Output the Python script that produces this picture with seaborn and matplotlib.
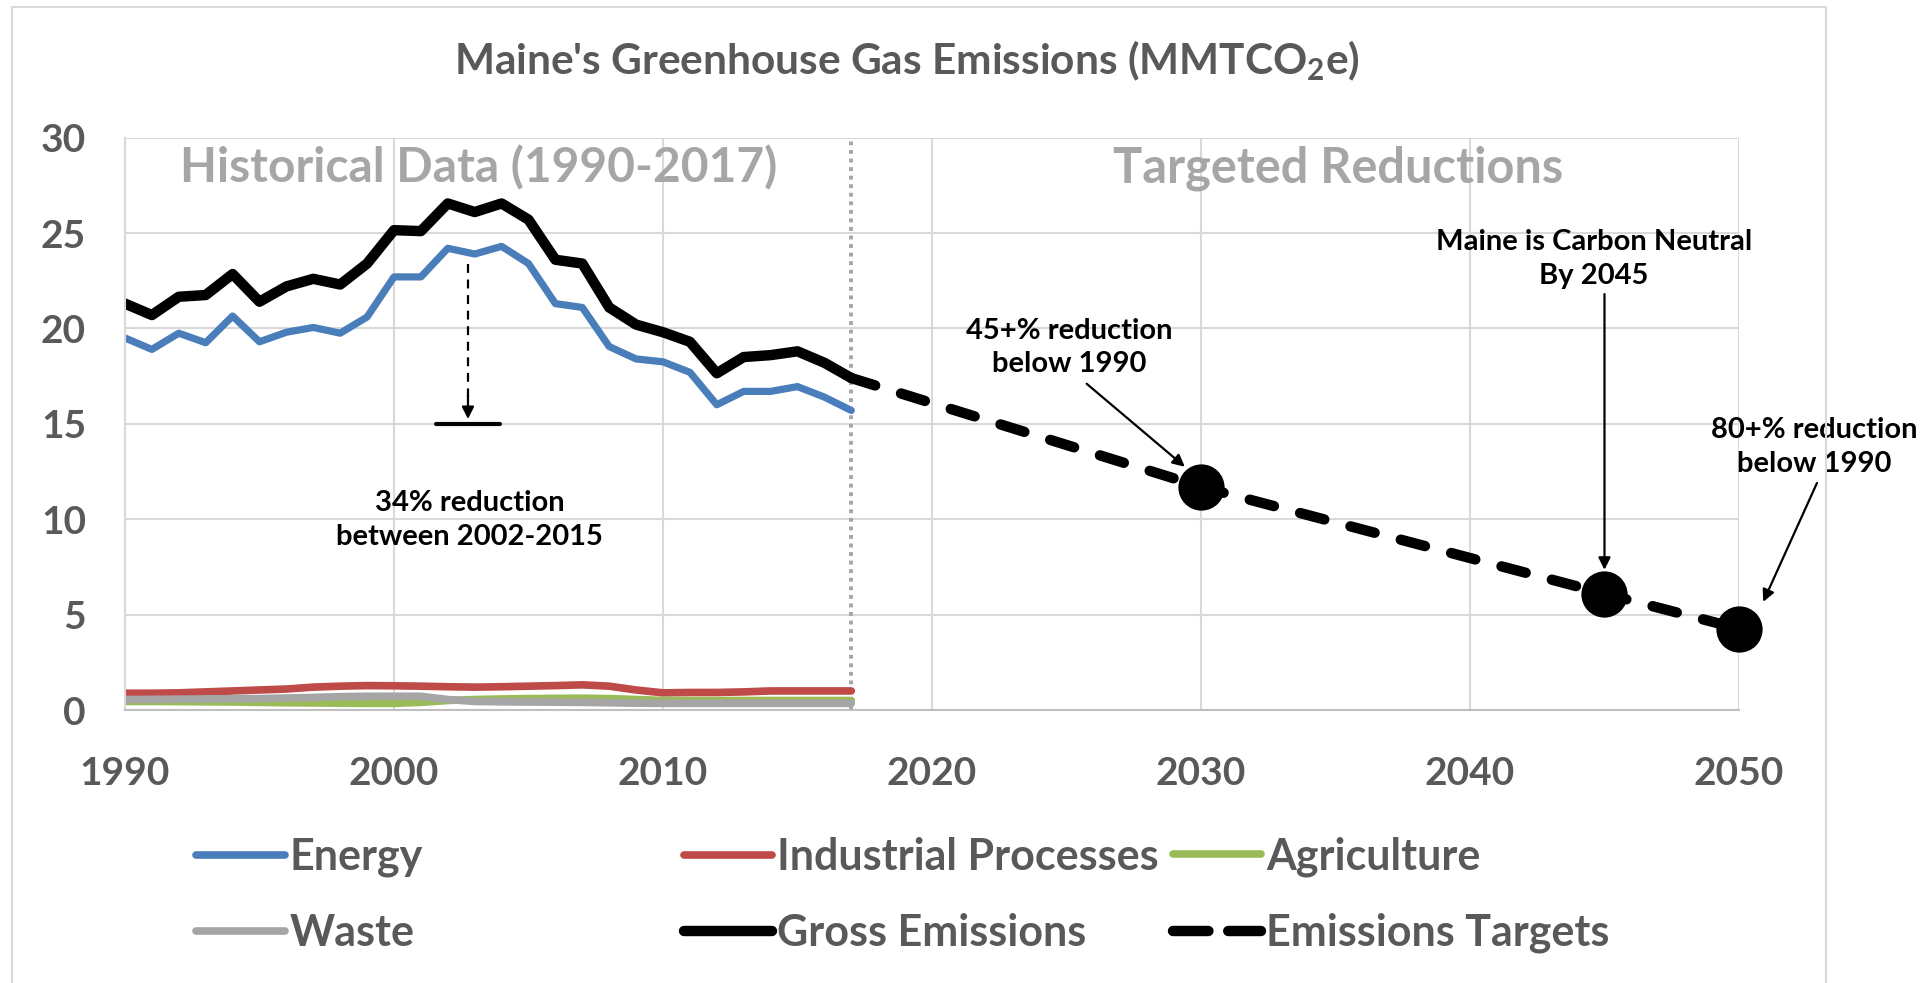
import seaborn as sns
import matplotlib.pyplot as plt
from matplotlib.lines import Line2D
from matplotlib.patches import Rectangle

# Datos (MMTCO2e)
years = list(range(1990, 2018))
energy = [19.5, 18.9, 19.75, 19.25, 20.65, 19.3, 19.8, 20.05, 19.75, 20.6,
          22.7, 22.7, 24.2, 23.9, 24.3, 23.4, 21.3, 21.1, 19.05, 18.4,
          18.25, 17.7, 16.0, 16.7, 16.7, 16.95, 16.4, 15.7]
industrial = [0.88, 0.88, 0.9, 0.95, 1.0, 1.05, 1.1, 1.2, 1.25, 1.28,
              1.27, 1.25, 1.22, 1.2, 1.22, 1.25, 1.28, 1.32, 1.25, 1.05,
              0.9, 0.92, 0.92, 0.95, 1.0, 1.0, 1.0, 1.0]
agriculture = [0.45, 0.45, 0.44, 0.43, 0.42, 0.4, 0.38, 0.37, 0.36, 0.35,
               0.35, 0.4, 0.5, 0.55, 0.58, 0.6, 0.61, 0.62, 0.6, 0.55,
               0.5, 0.5, 0.5, 0.5, 0.5, 0.5, 0.5, 0.5]
waste = [0.55, 0.56, 0.57, 0.58, 0.59, 0.6, 0.63, 0.66, 0.7, 0.72,
         0.72, 0.72, 0.55, 0.45, 0.43, 0.42, 0.41, 0.4, 0.38, 0.36,
         0.35, 0.35, 0.35, 0.35, 0.35, 0.35, 0.35, 0.35]
gross = [21.3, 20.7, 21.66, 21.75, 22.85, 21.4, 22.2, 22.6, 22.3, 23.4,
         25.15, 25.1, 26.55, 26.1, 26.55, 25.7, 23.6, 23.4, 21.1, 20.2,
         19.8, 19.3, 17.65, 18.5, 18.6, 18.8, 18.2, 17.4]
target_years = [2017, 2030, 2045, 2050]
target_values = [17.4, 11.7, 6.1, 4.26]

c_energy = "#4A7EBB"
c_ind = "#BE4B48"
c_agr = "#9BBB59"
c_waste = "#A5A5A5"
gris_texto = "#595959"

sns.set_theme(style="white")
plt.rcParams['font.family'] = ['Lato', 'DejaVu Sans']
plt.rcParams['font.weight'] = 'bold'
plt.rcParams['mathtext.fontset'] = 'custom'
plt.rcParams['mathtext.rm'] = 'Lato:bold'
plt.rcParams['mathtext.bf'] = 'Lato:bold'

fig = plt.figure(figsize=(19.26, 9.83), dpi=100)
ax = fig.add_axes([0.0649, 0.2777, 0.838, 0.5823])

# Series historicas
estilo = dict(solid_capstyle='round', solid_joinstyle='round', ax=ax)
sns.lineplot(x=years, y=energy, color=c_energy, linewidth=5.2, **estilo)
sns.lineplot(x=years, y=industrial, color=c_ind, linewidth=5.5, **estilo)
sns.lineplot(x=years, y=agriculture, color=c_agr, linewidth=5.5, **estilo)
sns.lineplot(x=years, y=waste, color=c_waste, linewidth=5.5, **estilo)
sns.lineplot(x=years, y=gross, color="black", linewidth=7.5, **estilo)

# Metas de emisiones
sns.lineplot(x=target_years, y=target_values, color="black", linewidth=7.5,
             linestyle=(0, (2.4, 2.6)), dash_capstyle='round', ax=ax)
sns.scatterplot(x=target_years[1:], y=target_values[1:], s=950, color="black",
                edgecolor="black", zorder=5, clip_on=False, ax=ax)

ax.axvline(2017, color="#A6A6A6", linewidth=2.8, linestyle=(0, (1, 1.2)), zorder=1)

# Ejes
ax.set_xlim(1990, 2050)
ax.set_ylim(0, 30)
ax.set_xticks(range(1990, 2051, 10))
ax.set_yticks(range(0, 31, 5))
ax.grid(True, color="#D9D9D9", linewidth=1.5)
ax.set_axisbelow(True)
for s in ['top', 'right']:
    ax.spines[s].set_visible(False)
ax.spines['left'].set_color("#D9D9D9")
ax.spines['bottom'].set_color("#BFBFBF")
ax.spines['left'].set_linewidth(1.5)
ax.spines['bottom'].set_linewidth(1.5)
ax.tick_params(axis='x', pad=33, labelsize=28, colors=gris_texto, length=0)
ax.tick_params(axis='y', pad=28, labelsize=28, colors=gris_texto, length=0)

# Titulo y rotulos
fig.text(0.471, 0.938, "Maine's Greenhouse Gas Emissions (MMTCO$_{2}$e)",
         ha='center', va='center', fontsize=30.5, color=gris_texto)
ax.text(2003.15, 28.4, "Historical Data (1990-2017)", ha='center', va='center',
        fontsize=34.5, color="#A6A6A6")
ax.text(2035.1, 28.4, "Targeted Reductions", ha='center', va='center',
        fontsize=35, color="#A6A6A6")

# Anotaciones
flecha = dict(arrowstyle='-|>', color='black', lw=1.6, mutation_scale=18,
              shrinkA=0, shrinkB=0)
notas = dict(ha='center', va='center', fontsize=21, linespacing=1.38, color='black')
ax.text(2002.8, 9.95, "34% reduction\nbetween 2002-2015", **notas)
ax.plot([2002.75, 2002.75], [23.4, 16.4], color='black', lw=1.6, ls=(0, (4, 3)))
ax.annotate('', xy=(2002.75, 15.25), xytext=(2002.75, 16.5), arrowprops=flecha)
ax.plot([2001.55, 2003.95], [15.0, 15.0], color='black', lw=3)

ax.text(2025.1, 19.0, "45+% reduction\nbelow 1990", **notas)
ax.annotate('', xy=(2029.4, 12.75), xytext=(2025.75, 17.1), arrowprops=flecha)

ax.text(2044.6, 23.65, "Maine is Carbon Neutral\nBy 2045", **notas)
ax.annotate('', xy=(2045.0, 7.35), xytext=(2045.0, 21.8), arrowprops=flecha)

ax.text(2052.8, 13.8, "80+% reduction\nbelow 1990", clip_on=False, **notas)
ax.annotate('', xy=(2050.9, 5.67), xytext=(2052.9, 11.9), arrowprops=flecha,
            annotation_clip=False)

# Leyenda en tres columnas
h = lambda c, lw, ls='-': Line2D([], [], color=c, lw=lw, ls=ls, solid_capstyle='round',
                                 dash_capstyle='round')
columnas = [
    ([h(c_energy, 5.5), h(c_waste, 5.5)], ["Energy", "Waste"], 0.102),
    ([h(c_ind, 5.5), h("black", 7.5)], ["Industrial Processes", "Gross Emissions"], 0.355),
    ([h(c_agr, 5.5), h("black", 7.5, (0, (3.4, 1.9)))], ["Agriculture", "Emissions Targets"], 0.609),
]
for handles, labels, x0 in columnas:
    fig.legend(handles, labels, loc='center left', bbox_to_anchor=(x0, 0.0898),
               frameon=False, fontsize=31, handlelength=2.05, handletextpad=0.12,
               labelspacing=0.83, borderpad=0, borderaxespad=0, labelcolor=gris_texto)

# Marco del grafico
fig.add_artist(Rectangle((12 / 1926, -0.1), 1814 / 1926, 1.093, transform=fig.transFigure,
                         fill=False, edgecolor="#D9D9D9", lw=1.5))

fig.savefig("out.png", dpi=100)
